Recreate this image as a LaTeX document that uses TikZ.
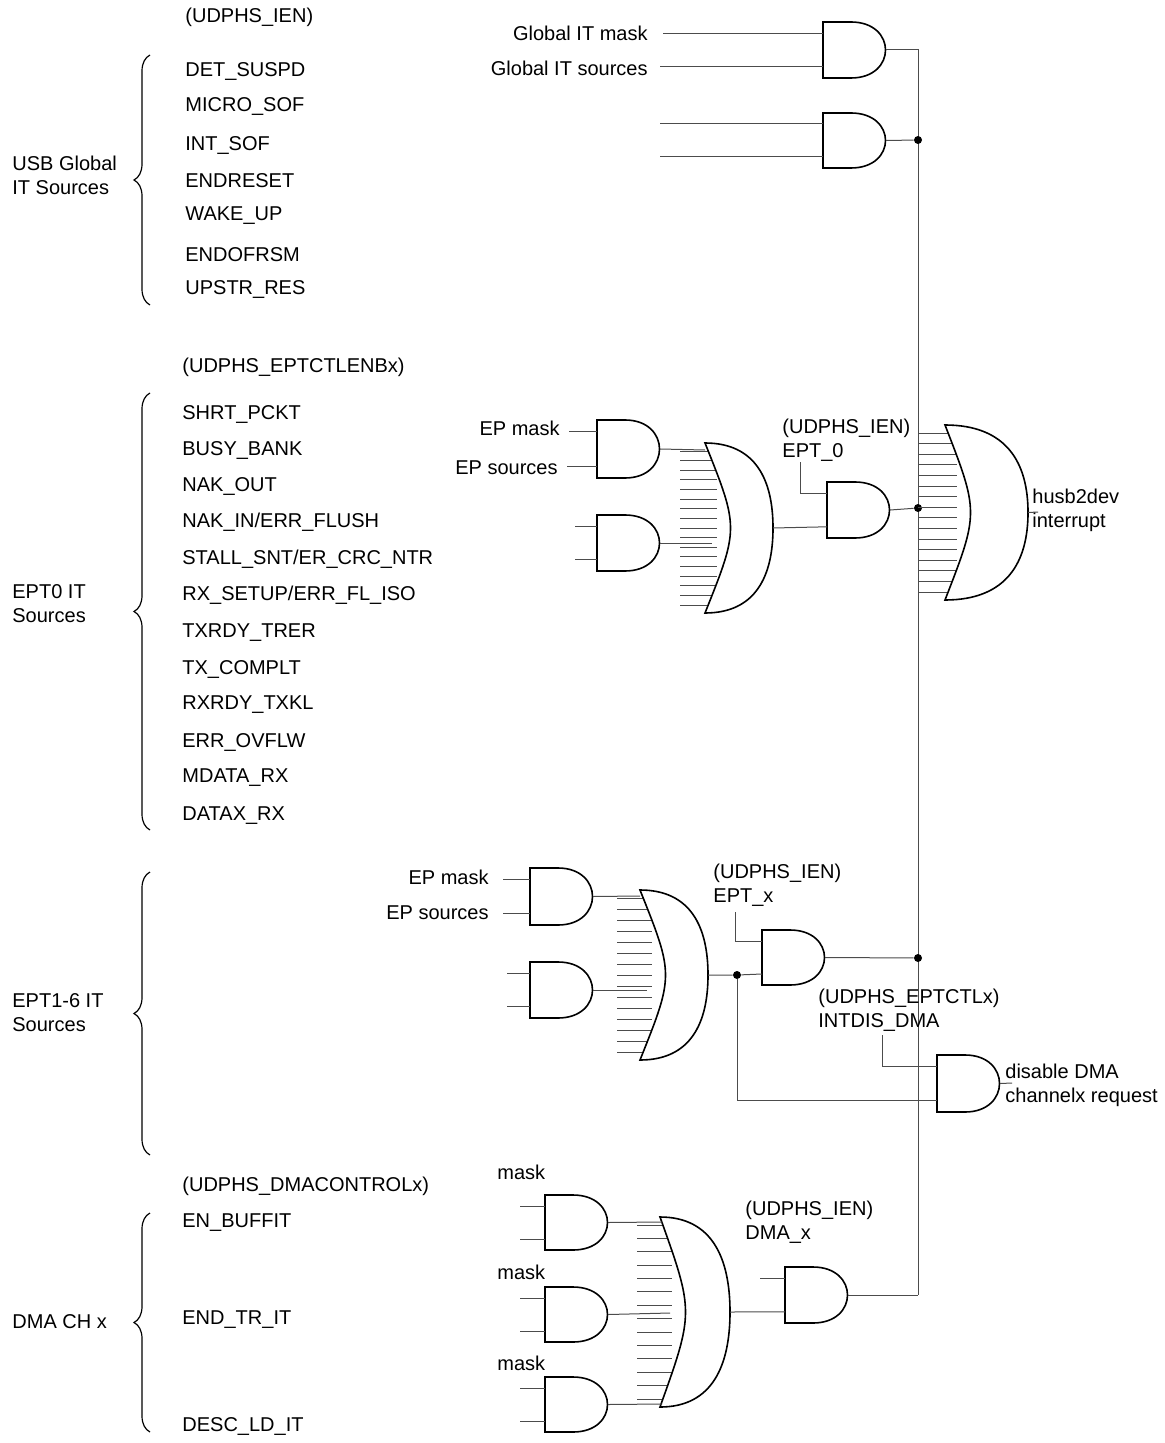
\documentclass[tikz,border=0pt]{standalone}
\usepackage{fontspec}
\setmainfont{Liberation Sans}
\usetikzlibrary{positioning, decorations.pathreplacing}

% AND gate: name, left x, top y, bottom y
\newcommand{\andg}[4]{%
  \draw[gate] (#2,#4) -- (#2,#3) -- ({#2+28},#3)
    .. controls ({#2+74},#3) and ({#2+74},#4) .. ({#2+28},#4) -- cycle;
  \coordinate (#1-a) at (#2,{#3+0.2*(#4-#3)});
  \coordinate (#1-b) at (#2,{#4-0.2*(#4-#3)});
  \coordinate (#1-o) at ({#2+63},{0.5*(#3+#4)});}
% OR gate: name, back x, top y, bottom y, tip x, stub x, stub count
\newcommand{\org}[7]{%
  \foreach \k in {1,...,#7}
    \draw[wire] (#6,{#3+8+(\k-1)*(#4-#3-16)/(#7-1)}) -- ({#2+12},{#3+8+(\k-1)*(#4-#3-16)/(#7-1)});
  \draw[gate] (#2,#3) .. controls ({#2+0.75*(#5-#2)},#3) and (#5,{#3+0.22*(#4-#3)}) .. (#5,{0.5*(#3+#4)})
    .. controls (#5,{#4-0.22*(#4-#3)}) and ({#2+0.75*(#5-#2)},#4) .. (#2,#4)
    .. controls ({#2+34},{0.5*(#3+#4)}) .. cycle;
  \coordinate (#1-o) at (#5,{0.5*(#3+#4)});}

\begin{document}
\begin{tikzpicture}[x=0.5pt, y=-0.5pt,
  gate/.style={draw=black, fill=white, line width=0.8pt},
  wire/.style={draw=black!70, line width=0.5pt},
  lbl/.style={font=\fontsize{10}{12}\selectfont, inner sep=0pt},
  brc/.style={decorate, decoration={brace, amplitude=8pt}, line width=0.6pt},
  dot/.style={circle, fill=black, inner sep=0pt, minimum size=4pt}]
\useasboundingbox (0,0) rectangle (1165,1443);

% left lists
\node[lbl, anchor=west] at (185,17) {(UDPHS\_IEN)};
\foreach \y/\t in {72/{DET\_SUSPD}, 107/{MICRO\_SOF}, 146/{INT\_SOF}, 181/{ENDRESET},
    216/{WAKE\_UP}, 255/{ENDOFRSM}, 290/{UPSTR\_RES}}
  \node[lbl, anchor=west] at (185,\y) {\t};
\node[lbl, anchor=west, align=left] at (12,175) {USB Global\\IT Sources};
\draw[brc] (150,305) -- (150,55);

\node[lbl, anchor=west] at (182,367) {(UDPHS\_EPTCTLENBx)};
\foreach \y/\t in {415/{SHRT\_PCKT}, 451/{BUSY\_BANK}, 487/{NAK\_OUT}, 522/{NAK\_IN/ERR\_FLUSH},
    559/{STALL\_SNT/ER\_CRC\_NTR}, 595/{RX\_SETUP/ERR\_FL\_ISO}, 633/{TXRDY\_TRER},
    669/{TX\_COMPLT}, 705/{RXRDY\_TXKL}, 742/{ERR\_OVFLW}, 778/{MDATA\_RX}, 816/{DATAX\_RX}}
  \node[lbl, anchor=west] at (182,\y) {\t};
\node[lbl, anchor=west, align=left] at (12,604) {EPT0 IT\\Sources};
\draw[brc] (150,830) -- (150,393);

\node[lbl, anchor=west, align=left] at (12,1013) {EPT1-6 IT\\Sources};
\draw[brc] (150,1155) -- (150,872);

\node[lbl, anchor=west] at (182,1186) {(UDPHS\_DMACONTROLx)};
\node[lbl, anchor=west] at (182,1223) {EN\_BUFFIT};
\node[lbl, anchor=west] at (182,1320) {END\_TR\_IT};
\node[lbl, anchor=west] at (182,1426) {DESC\_LD\_IT};
\node[lbl, anchor=west] at (12,1322) {DMA CH x};
\draw[brc] (150,1432) -- (150,1213);

% global sources
\andg{g1}{823}{22}{78}
\andg{g2}{823}{113}{168}
\node[lbl, anchor=east] (gm) at (648,33) {Global IT mask};
\node[lbl, anchor=east] (gs) at (648,68) {Global IT sources};
\draw[wire] (g1-a) -- ++(-160,0);
\draw[wire] (g1-b) -- ++(-163,0);
\draw[wire] (g2-a) -- ++(-163,0);
\draw[wire] (g2-b) -- ++(-163,0);

% bus
\coordinate (bus-top) at (918,50);
\coordinate (bus-bot) at (918,1295);
\draw[wire] (g1-o) -- (bus-top) -- (bus-bot);
\node[dot] (d1) at (918,140) {};
\draw[wire] (g2-o) -- (d1);

% EPT0
\andg{e0a}{597}{420}{478}
\andg{e0b}{597}{515}{571}
\node[lbl, anchor=east] (e0m) at (560,428) {EP mask};
\node[lbl, anchor=east] (e0s) at (558,468) {EP sources};
\draw[wire] (e0a-a) -- ++(-28,0);
\draw[wire] (e0a-b) -- ++(-30,0);
\draw[wire] (e0b-a) -- ++(-22,0);
\draw[wire] (e0b-b) -- ++(-22,0);
\org{e0or}{705}{443}{613}{773}{680}{17}
\draw[wire] (e0a-o) -- (705,450);
\draw[wire] (e0b-o) -- (712,543);
\andg{e0n}{827}{482}{538}
\node[lbl, anchor=west, align=left] (e0l) at (782,440) {(UDPHS\_IEN)\\EPT\_0};
\coordinate (e0n-t) at (800,462);
\draw[wire] (e0n-t) |- (e0n-a);
\draw[wire] (e0or-o) -- (e0n-b);
\node[dot] (d2) at (918,508) {};
\draw[wire] (e0n-o) -- (d2);

% main OR
\org{mor}{945}{425}{600}{1028}{918}{16}
\coordinate (irq) at (1038,512);
\draw[wire] (mor-o) -- (irq);
\node[lbl, anchor=west, align=left] at (1032,510) {husb2dev\\interrupt};

% EPT1-6
\andg{exa}{530}{868}{925}
\andg{exb}{530}{962}{1018}
\node[lbl, anchor=east] (exm) at (489,877) {EP mask};
\node[lbl, anchor=east] (exs) at (489,913) {EP sources};
\draw[wire] (exa-a) -- ++(-27,0);
\draw[wire] (exa-b) -- ++(-27,0);
\draw[wire] (exb-a) -- ++(-23,0);
\draw[wire] (exb-b) -- ++(-23,0);
\org{exor}{640}{890}{1060}{708}{617}{15}
\draw[wire] (exa-o) -- (640,896);
\draw[wire] (exb-o) -- (647,990);
\andg{exn}{762}{930}{985}
\node[lbl, anchor=west, align=left] at (713,885) {(UDPHS\_IEN)\\EPT\_x};
\coordinate (exn-t) at (735,912);
\draw[wire] (exn-t) |- (exn-a);
\node[dot] (d3) at (737,975) {};
\draw[wire] (exor-o) -- (d3) -- (exn-b);
\node[dot] (d4) at (918,958) {};
\draw[wire] (exn-o) -- (d4);
\andg{dis}{937}{1055}{1112}
\node[lbl, anchor=west, align=left] at (818,1010) {(UDPHS\_EPTCTLx)\\INTDIS\_DMA};
\coordinate (dis-t) at (882,1035);
\draw[wire] (dis-t) |- (dis-a);
\draw[wire] (d3) |- (dis-b);
\coordinate (dis-end) at (1012,1083);
\draw[wire] (dis-o) -- (dis-end);
\node[lbl, anchor=west, align=left] at (1005,1085) {disable DMA\\channelx request};

% DMA
\foreach \n/\t/\b/\m in {da/1195/1250/1172, db/1287/1342/1272, dc/1377/1432/1363} {
  \andg{\n}{545}{\t}{\b}
  \node[lbl, anchor=west] at (497,\m) {mask};
  \draw[wire] (\n-a) -- ++(-25,0);
  \draw[wire] (\n-b) -- ++(-25,0);
}
\org{dor}{660}{1217}{1407}{730}{637}{14}
\draw[wire] (da-o) -- (662,1222);
\draw[wire] (db-o) -- (670,1313);
\draw[wire] (dc-o) -- (662,1404);
\andg{dn}{785}{1267}{1323}
\node[lbl, anchor=west, align=left] at (745,1222) {(UDPHS\_IEN)\\DMA\_x};
\draw[wire] (dn-a) -- ++(-25,0);
\draw[wire] (dor-o) -- (dn-b);
\draw[wire] (dn-o) -- (bus-bot);
\end{tikzpicture}
\end{document}
